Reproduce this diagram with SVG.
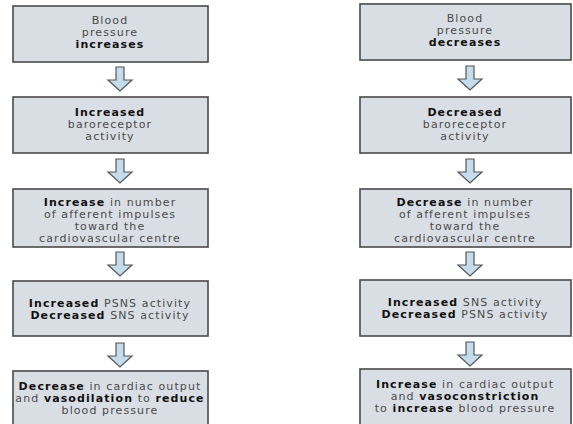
<svg xmlns="http://www.w3.org/2000/svg" width="573" height="424" viewBox="0 0 573 424">
<defs>
<style>
.box{fill:#d9dee4;stroke:#4a4a4a;stroke-width:1.6}
.t{font-family:"DejaVu Sans",sans-serif;font-size:11px;letter-spacing:1.1px;fill:#4a4a4a;text-anchor:middle}
.b{font-weight:bold;fill:#111}
.arr{fill:#c5dced;stroke:#555;stroke-width:1.2;stroke-linejoin:miter}
</style>
<path id="arrow" d="M-4,0 L4,0 L4,13 L12,13 L0,24 L-12,13 L-4,13 Z"/>
</defs>
<rect width="573" height="424" fill="#fff"/>

<g id="connectors">
<use href="#arrow" class="arr" x="120" y="67"/>
<use href="#arrow" class="arr" x="120" y="159"/>
<use href="#arrow" class="arr" x="120" y="252"/>
<use href="#arrow" class="arr" x="120" y="343"/>
<use href="#arrow" class="arr" x="470" y="66"/>
<use href="#arrow" class="arr" x="470" y="159"/>
<use href="#arrow" class="arr" x="470" y="252"/>
<use href="#arrow" class="arr" x="470" y="342"/>
</g>

<g id="L1"><rect class="box" x="13" y="6" width="195" height="56"/>
<text class="t" x="110" y="24">Blood</text>
<text class="t" x="110" y="36">pressure</text>
<text class="t b" x="110" y="48">increases</text></g>

<g id="L2"><rect class="box" x="13" y="97" width="195" height="56"/>
<text class="t b" x="110" y="116">Increased</text>
<text class="t" x="110" y="128">baroreceptor</text>
<text class="t" x="110" y="140">activity</text></g>

<g id="L3"><rect class="box" x="13" y="189" width="195" height="58"/>
<text class="t" x="110" y="206"><tspan class="b">Increase</tspan> in number</text>
<text class="t" x="110" y="218">of afferent impulses</text>
<text class="t" x="110" y="230">toward the</text>
<text class="t" x="110" y="242">cardiovascular centre</text></g>

<g id="L4"><rect class="box" x="13" y="281" width="195" height="55"/>
<text class="t" x="110" y="307"><tspan class="b">Increased</tspan> PSNS activity</text>
<text class="t" x="110" y="319"><tspan class="b">Decreased</tspan> SNS activity</text></g>

<g id="L5"><rect class="box" x="13" y="371" width="195" height="60"/>
<text class="t" x="110" y="390"><tspan class="b">Decrease</tspan> in cardiac output</text>
<text class="t" x="110" y="402">and <tspan class="b">vasodilation</tspan> to <tspan class="b">reduce</tspan></text>
<text class="t" x="110" y="414">blood pressure</text></g>

<g id="R1"><rect class="box" x="360" y="4" width="211" height="56"/>
<text class="t" x="465" y="22">Blood</text>
<text class="t" x="465" y="34">pressure</text>
<text class="t b" x="465" y="46">decreases</text></g>

<g id="R2"><rect class="box" x="360" y="97" width="211" height="56"/>
<text class="t b" x="465" y="116">Decreased</text>
<text class="t" x="465" y="128">baroreceptor</text>
<text class="t" x="465" y="140">activity</text></g>

<g id="R3"><rect class="box" x="360" y="189" width="211" height="58"/>
<text class="t" x="465" y="206"><tspan class="b">Decrease</tspan> in number</text>
<text class="t" x="465" y="218">of afferent impulses</text>
<text class="t" x="465" y="230">toward the</text>
<text class="t" x="465" y="242">cardiovascular centre</text></g>

<g id="R4"><rect class="box" x="360" y="280" width="211" height="56"/>
<text class="t" x="465" y="306"><tspan class="b">Increased</tspan> SNS activity</text>
<text class="t" x="465" y="318"><tspan class="b">Decreased</tspan> PSNS activity</text></g>

<g id="R5"><rect class="box" x="360" y="369" width="211" height="62"/>
<text class="t" x="465" y="388"><tspan class="b">Increase</tspan> in cardiac output</text>
<text class="t" x="465" y="400">and <tspan class="b">vasoconstriction</tspan></text>
<text class="t" x="465" y="412">to <tspan class="b">increase</tspan> blood pressure</text></g>
</svg>
